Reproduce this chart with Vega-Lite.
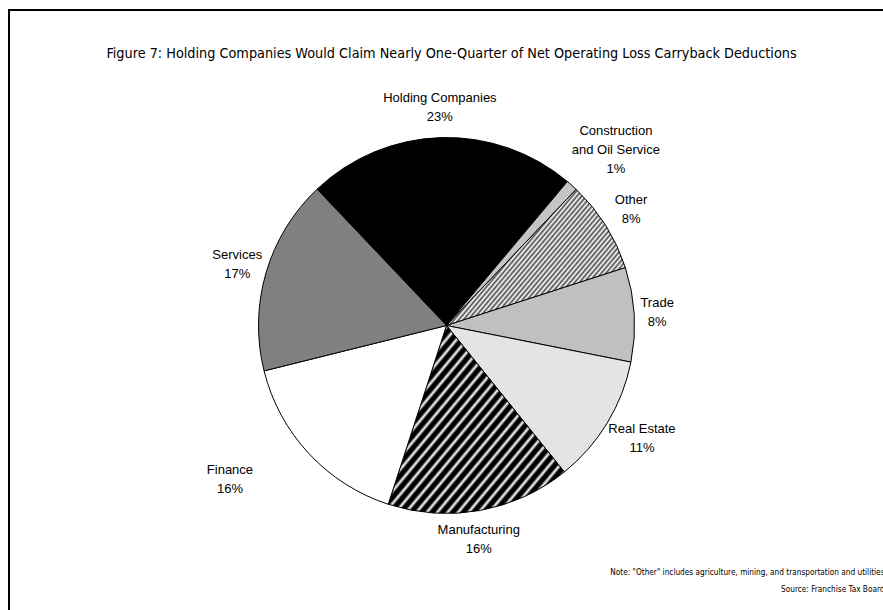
{
  "$schema": "https://vega.github.io/schema/vega-lite/v6.json",
  "width": 875,
  "height": 631,
  "autosize": {"type": "none"},
  "padding": {"left": 9, "top": 10, "right": 0, "bottom": 0},
  "background": "white",
  "config": {"view": {"stroke": "black", "strokeWidth": 2}},
  "title": {
    "text": "Figure 7: Holding Companies Would Claim Nearly One-Quarter of Net Operating Loss Carryback Deductions",
    "font": "DejaVu Sans Condensed",
    "fontSize": 14.3,
    "fontWeight": "normal",
    "color": "black",
    "anchor": "middle",
    "frame": "group",
    "orient": "top",
    "offset": -58,
    "baseline": "middle",
    "dx": 5
  },
  "data": {
    "values": [
      {"sector": "Holding Companies", "share": 23.2},
      {"sector": "Construction\nand Oil Service", "share": 1.0},
      {"sector": "Other", "share": 7.9},
      {"sector": "Trade", "share": 8.1},
      {"sector": "Real Estate", "share": 11.1},
      {"sector": "Manufacturing", "share": 15.8},
      {"sector": "Finance", "share": 16.1},
      {"sector": "Services", "share": 16.8}
    ]
  },
  "transform": [
    {"window": [{"op": "row_number", "as": "idx"}]},
    {"calculate": "datum.sector + '\\n' + format(datum.share, '.0f') + '%'", "as": "label"}
  ],
  "layer": [
    {
      "mark": {"type": "arc", "outerRadius": 188, "stroke": "black", "strokeWidth": 1},
      "encoding": {
        "theta": {"field": "share", "type": "quantitative", "stack": true, "scale": {"range": [-0.7592, 5.524]}},
        "order": {"field": "idx", "type": "quantitative"},
        "fill": {
          "condition": [
            {"test": "datum.sector === 'Holding Companies'", "value": "#000000"},
            {"test": "indexof(datum.sector, 'Construction') >= 0", "value": "#c4c4c4"},
            {"test": "datum.sector === 'Trade'", "value": "#c0c0c0"},
            {"test": "datum.sector === 'Services'", "value": "#808080"},
            {"test": "datum.sector === 'Real Estate'", "value": "#e4e4e4"},
            {"test": "datum.sector === 'Manufacturing'", "value": {
              "gradient": "linear", "x1": 0, "y1": 0, "x2": 1.054, "y2": 0.939,
              "stops": [
                {"offset": 0, "color": "#000"}, {"offset": 0.0125, "color": "#000"}, {"offset": 0.021875, "color": "#fff"},
                {"offset": 0.03125, "color": "#000"}, {"offset": 0.04375, "color": "#000"}, {"offset": 0.053125, "color": "#fff"},
                {"offset": 0.0625, "color": "#000"}, {"offset": 0.075, "color": "#000"}, {"offset": 0.084375, "color": "#fff"},
                {"offset": 0.09375, "color": "#000"}, {"offset": 0.10625, "color": "#000"}, {"offset": 0.115625, "color": "#fff"},
                {"offset": 0.125, "color": "#000"}, {"offset": 0.1375, "color": "#000"}, {"offset": 0.146875, "color": "#fff"},
                {"offset": 0.15625, "color": "#000"}, {"offset": 0.16875, "color": "#000"}, {"offset": 0.178125, "color": "#fff"},
                {"offset": 0.1875, "color": "#000"}, {"offset": 0.2, "color": "#000"}, {"offset": 0.209375, "color": "#fff"},
                {"offset": 0.21875, "color": "#000"}, {"offset": 0.23125, "color": "#000"}, {"offset": 0.240625, "color": "#fff"},
                {"offset": 0.25, "color": "#000"}, {"offset": 0.2625, "color": "#000"}, {"offset": 0.271875, "color": "#fff"},
                {"offset": 0.28125, "color": "#000"}, {"offset": 0.29375, "color": "#000"}, {"offset": 0.303125, "color": "#fff"},
                {"offset": 0.3125, "color": "#000"}, {"offset": 0.325, "color": "#000"}, {"offset": 0.334375, "color": "#fff"},
                {"offset": 0.34375, "color": "#000"}, {"offset": 0.35625, "color": "#000"}, {"offset": 0.365625, "color": "#fff"},
                {"offset": 0.375, "color": "#000"}, {"offset": 0.3875, "color": "#000"}, {"offset": 0.396875, "color": "#fff"},
                {"offset": 0.40625, "color": "#000"}, {"offset": 0.41875, "color": "#000"}, {"offset": 0.428125, "color": "#fff"},
                {"offset": 0.4375, "color": "#000"}, {"offset": 0.45, "color": "#000"}, {"offset": 0.459375, "color": "#fff"},
                {"offset": 0.46875, "color": "#000"}, {"offset": 0.48125, "color": "#000"}, {"offset": 0.490625, "color": "#fff"},
                {"offset": 0.5, "color": "#000"}, {"offset": 0.5125, "color": "#000"}, {"offset": 0.521875, "color": "#fff"},
                {"offset": 0.53125, "color": "#000"}, {"offset": 0.54375, "color": "#000"}, {"offset": 0.553125, "color": "#fff"},
                {"offset": 0.5625, "color": "#000"}, {"offset": 0.575, "color": "#000"}, {"offset": 0.584375, "color": "#fff"},
                {"offset": 0.59375, "color": "#000"}, {"offset": 0.60625, "color": "#000"}, {"offset": 0.615625, "color": "#fff"},
                {"offset": 0.625, "color": "#000"}, {"offset": 0.6375, "color": "#000"}, {"offset": 0.646875, "color": "#fff"},
                {"offset": 0.65625, "color": "#000"}, {"offset": 0.66875, "color": "#000"}, {"offset": 0.678125, "color": "#fff"},
                {"offset": 0.6875, "color": "#000"}, {"offset": 0.7, "color": "#000"}, {"offset": 0.709375, "color": "#fff"},
                {"offset": 0.71875, "color": "#000"}, {"offset": 0.73125, "color": "#000"}, {"offset": 0.740625, "color": "#fff"},
                {"offset": 0.75, "color": "#000"}, {"offset": 0.7625, "color": "#000"}, {"offset": 0.771875, "color": "#fff"},
                {"offset": 0.78125, "color": "#000"}, {"offset": 0.79375, "color": "#000"}, {"offset": 0.803125, "color": "#fff"},
                {"offset": 0.8125, "color": "#000"}, {"offset": 0.825, "color": "#000"}, {"offset": 0.834375, "color": "#fff"},
                {"offset": 0.84375, "color": "#000"}, {"offset": 0.85625, "color": "#000"}, {"offset": 0.865625, "color": "#fff"},
                {"offset": 0.875, "color": "#000"}, {"offset": 0.8875, "color": "#000"}, {"offset": 0.896875, "color": "#fff"},
                {"offset": 0.90625, "color": "#000"}, {"offset": 0.91875, "color": "#000"}, {"offset": 0.928125, "color": "#fff"},
                {"offset": 0.9375, "color": "#000"}, {"offset": 0.95, "color": "#000"}, {"offset": 0.959375, "color": "#fff"},
                {"offset": 0.96875, "color": "#000"}, {"offset": 0.98125, "color": "#000"}, {"offset": 0.990625, "color": "#fff"},
                {"offset": 1, "color": "#000"}
              ]
            }},
            {"test": "datum.sector === 'Other'", "value": {
              "gradient": "linear", "x1": 0, "y1": 0, "x2": 1.163, "y2": 0.745,
              "stops": [
                {"offset": 0, "color": "#4d4d4d"}, {"offset": 0.008, "color": "#fff"},
                {"offset": 0.016, "color": "#4d4d4d"}, {"offset": 0.024, "color": "#fff"},
                {"offset": 0.032, "color": "#4d4d4d"}, {"offset": 0.04, "color": "#fff"},
                {"offset": 0.048, "color": "#4d4d4d"}, {"offset": 0.056, "color": "#fff"},
                {"offset": 0.064, "color": "#4d4d4d"}, {"offset": 0.072, "color": "#fff"},
                {"offset": 0.08, "color": "#4d4d4d"}, {"offset": 0.088, "color": "#fff"},
                {"offset": 0.096, "color": "#4d4d4d"}, {"offset": 0.104, "color": "#fff"},
                {"offset": 0.112, "color": "#4d4d4d"}, {"offset": 0.12, "color": "#fff"},
                {"offset": 0.128, "color": "#4d4d4d"}, {"offset": 0.136, "color": "#fff"},
                {"offset": 0.144, "color": "#4d4d4d"}, {"offset": 0.152, "color": "#fff"},
                {"offset": 0.16, "color": "#4d4d4d"}, {"offset": 0.168, "color": "#fff"},
                {"offset": 0.176, "color": "#4d4d4d"}, {"offset": 0.184, "color": "#fff"},
                {"offset": 0.192, "color": "#4d4d4d"}, {"offset": 0.2, "color": "#fff"},
                {"offset": 0.208, "color": "#4d4d4d"}, {"offset": 0.216, "color": "#fff"},
                {"offset": 0.224, "color": "#4d4d4d"}, {"offset": 0.232, "color": "#fff"},
                {"offset": 0.24, "color": "#4d4d4d"}, {"offset": 0.248, "color": "#fff"},
                {"offset": 0.256, "color": "#4d4d4d"}, {"offset": 0.264, "color": "#fff"},
                {"offset": 0.272, "color": "#4d4d4d"}, {"offset": 0.28, "color": "#fff"},
                {"offset": 0.288, "color": "#4d4d4d"}, {"offset": 0.296, "color": "#fff"},
                {"offset": 0.304, "color": "#4d4d4d"}, {"offset": 0.312, "color": "#fff"},
                {"offset": 0.32, "color": "#4d4d4d"}, {"offset": 0.328, "color": "#fff"},
                {"offset": 0.336, "color": "#4d4d4d"}, {"offset": 0.344, "color": "#fff"},
                {"offset": 0.352, "color": "#4d4d4d"}, {"offset": 0.36, "color": "#fff"},
                {"offset": 0.368, "color": "#4d4d4d"}, {"offset": 0.376, "color": "#fff"},
                {"offset": 0.384, "color": "#4d4d4d"}, {"offset": 0.392, "color": "#fff"},
                {"offset": 0.4, "color": "#4d4d4d"}, {"offset": 0.408, "color": "#fff"},
                {"offset": 0.416, "color": "#4d4d4d"}, {"offset": 0.424, "color": "#fff"},
                {"offset": 0.432, "color": "#4d4d4d"}, {"offset": 0.44, "color": "#fff"},
                {"offset": 0.448, "color": "#4d4d4d"}, {"offset": 0.456, "color": "#fff"},
                {"offset": 0.464, "color": "#4d4d4d"}, {"offset": 0.472, "color": "#fff"},
                {"offset": 0.48, "color": "#4d4d4d"}, {"offset": 0.488, "color": "#fff"},
                {"offset": 0.496, "color": "#4d4d4d"}, {"offset": 0.504, "color": "#fff"},
                {"offset": 0.512, "color": "#4d4d4d"}, {"offset": 0.52, "color": "#fff"},
                {"offset": 0.528, "color": "#4d4d4d"}, {"offset": 0.536, "color": "#fff"},
                {"offset": 0.544, "color": "#4d4d4d"}, {"offset": 0.552, "color": "#fff"},
                {"offset": 0.56, "color": "#4d4d4d"}, {"offset": 0.568, "color": "#fff"},
                {"offset": 0.576, "color": "#4d4d4d"}, {"offset": 0.584, "color": "#fff"},
                {"offset": 0.592, "color": "#4d4d4d"}, {"offset": 0.6, "color": "#fff"},
                {"offset": 0.608, "color": "#4d4d4d"}, {"offset": 0.616, "color": "#fff"},
                {"offset": 0.624, "color": "#4d4d4d"}, {"offset": 0.632, "color": "#fff"},
                {"offset": 0.64, "color": "#4d4d4d"}, {"offset": 0.648, "color": "#fff"},
                {"offset": 0.656, "color": "#4d4d4d"}, {"offset": 0.664, "color": "#fff"},
                {"offset": 0.672, "color": "#4d4d4d"}, {"offset": 0.68, "color": "#fff"},
                {"offset": 0.688, "color": "#4d4d4d"}, {"offset": 0.696, "color": "#fff"},
                {"offset": 0.704, "color": "#4d4d4d"}, {"offset": 0.712, "color": "#fff"},
                {"offset": 0.72, "color": "#4d4d4d"}, {"offset": 0.728, "color": "#fff"},
                {"offset": 0.736, "color": "#4d4d4d"}, {"offset": 0.744, "color": "#fff"},
                {"offset": 0.752, "color": "#4d4d4d"}, {"offset": 0.76, "color": "#fff"},
                {"offset": 0.768, "color": "#4d4d4d"}, {"offset": 0.776, "color": "#fff"},
                {"offset": 0.784, "color": "#4d4d4d"}, {"offset": 0.792, "color": "#fff"},
                {"offset": 0.8, "color": "#4d4d4d"}, {"offset": 0.808, "color": "#fff"},
                {"offset": 0.816, "color": "#4d4d4d"}, {"offset": 0.824, "color": "#fff"},
                {"offset": 0.832, "color": "#4d4d4d"}, {"offset": 0.84, "color": "#fff"},
                {"offset": 0.848, "color": "#4d4d4d"}, {"offset": 0.856, "color": "#fff"},
                {"offset": 0.864, "color": "#4d4d4d"}, {"offset": 0.872, "color": "#fff"},
                {"offset": 0.88, "color": "#4d4d4d"}, {"offset": 0.888, "color": "#fff"},
                {"offset": 0.896, "color": "#4d4d4d"}, {"offset": 0.904, "color": "#fff"},
                {"offset": 0.912, "color": "#4d4d4d"}, {"offset": 0.92, "color": "#fff"},
                {"offset": 0.928, "color": "#4d4d4d"}, {"offset": 0.936, "color": "#fff"},
                {"offset": 0.944, "color": "#4d4d4d"}, {"offset": 0.952, "color": "#fff"},
                {"offset": 0.96, "color": "#4d4d4d"}, {"offset": 0.968, "color": "#fff"},
                {"offset": 0.976, "color": "#4d4d4d"}, {"offset": 0.984, "color": "#fff"},
                {"offset": 0.992, "color": "#4d4d4d"}, {"offset": 1, "color": "#fff"}
              ]
            }}
          ],
          "value": "#ffffff"
        }
      }
    },
    {
      "mark": {
        "type": "text",
        "radius": 218,
        "font": "Liberation Sans",
        "fontSize": 13,
        "lineBreak": "\n",
        "align": "center",
        "baseline": "middle",
        "color": "black",
        "lineHeight": 19,
        "dx": {"expr": "datum.sector === 'Finance' ? -57 : indexof(datum.sector, 'Construction') >= 0 ? 24 : datum.sector === 'Trade' ? -7 : datum.sector === 'Real Estate' ? 9 : datum.sector === 'Manufacturing' ? -7 : 0"},
        "dy": {"expr": "datum.sector === 'Finance' ? -4 : indexof(datum.sector, 'Construction') >= 0 ? -32 : -9.5"}
      },
      "encoding": {
        "theta": {"field": "share", "type": "quantitative", "stack": true},
        "order": {"field": "idx", "type": "quantitative"},
        "text": {"field": "label"}
      }
    },
    {
      "mark": {"type": "point", "opacity": 0},
      "encoding": {
        "x": {
          "field": "share",
          "type": "quantitative",
          "axis": {
            "orient": "bottom",
            "domain": false,
            "ticks": false,
            "labels": false,
            "grid": false,
            "title": ["Note: \"Other\" includes agriculture, mining, and transportation and utilities", "Source: Franchise Tax Board"],
            "titleAnchor": "end",
            "titleAlign": "right",
            "titleBaseline": "top",
            "titleFont": "DejaVu Sans Condensed",
            "titleFontSize": 8.2,
            "titleFontWeight": "normal",
            "titleColor": "black",
            "titleLineHeight": 17,
            "titleY": -73
          }
        }
      }
    }
  ]
}
